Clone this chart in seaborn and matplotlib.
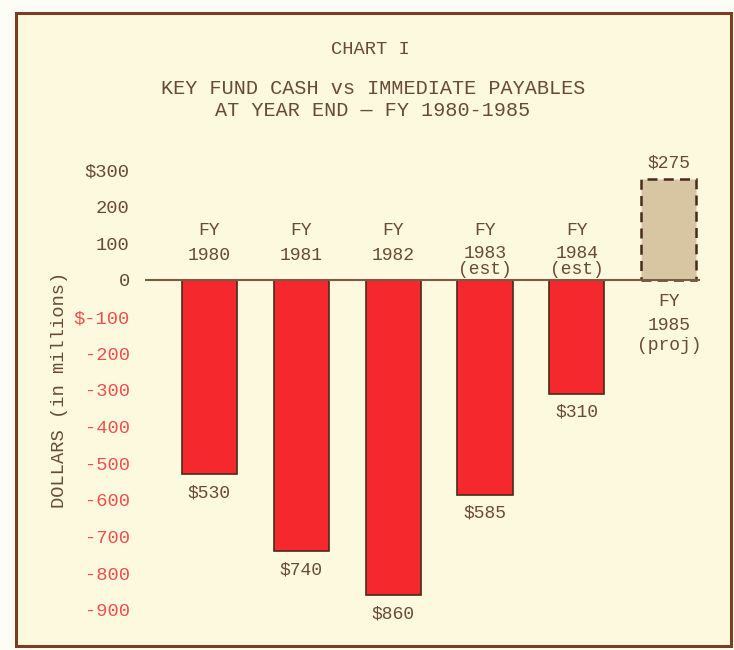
import matplotlib
matplotlib.use("Agg")
import matplotlib.pyplot as plt
import seaborn as sns
import pandas as pd
from matplotlib.patches import Rectangle

# Data (millions of dollars)
years = ["1980", "1981", "1982", "1983", "1984", "1985"]
notes = ["", "", "", "(est)", "(est)", "(proj)"]
values = [-530, -740, -860, -585, -310, 275]
value_labels = ["$530", "$740", "$860", "$585", "$310", "$275"]
yticks = [300, 200, 100, 0, -100, -200, -300, -400, -500, -600, -700, -800, -900]
ytick_labels = ["$300", "200", "100", "0", "$-100", "-200", "-300", "-400",
                "-500", "-600", "-700", "-800", "-900"]

BROWN = "#6b4a35"
RED_TXT = "#f0504c"
BAR_RED = "#f5282d"
TAN = "#d8c6a3"
EDGE = "#4a2a1a"
PAPER = "#fcf9df"

sns.set_style("white")
plt.rcParams["font.family"] = ["Liberation Mono", "DejaVu Sans Mono"]

fig = plt.figure(figsize=(7.34, 6.5), dpi=100)
fig.patch.set_facecolor("#fdfdf6")

# paper frame (behind the axes)
fig.patches.append(Rectangle((16 / 734, 4 / 650), 715 / 734, 633 / 650,
                             transform=fig.transFigure, facecolor=PAPER,
                             edgecolor="#7a3f22", linewidth=2.2, zorder=-5))

ax = fig.add_axes([145 / 734, 40 / 650, 555 / 734, 440 / 650])
ax.set_facecolor("none")

df = pd.DataFrame({"year": years, "value": values})
colors = {y: (TAN if v > 0 else BAR_RED) for y, v in zip(years, values)}
sns.barplot(data=df, x="year", y="value", hue="year", palette=colors,
            legend=False, width=0.6, edgecolor=EDGE, linewidth=1.2,
            saturation=1, ax=ax)

for p, v in zip(ax.patches, values):
    if v > 0:
        p.set_linestyle((0, (4, 2.5)))
        p.set_linewidth(1.8)

ax.axhline(0, color="#7a5a40", linewidth=1.5, zorder=3)

ax.set_xlim(-0.70, 5.34)
ax.set_ylim(-900, 300)
ax.set_yticks(yticks)
ax.set_yticklabels(ytick_labels, fontsize=13.5)
for lbl, t in zip(ax.get_yticklabels(), yticks):
    lbl.set_color(BROWN if t >= 0 else RED_TXT)
ax.tick_params(axis="y", length=0, pad=11)
ax.set_xticks([])
ax.set_xlabel("")
ax.set_ylabel("DOLLARS (in millions)", fontsize=13.5, color=BROWN, labelpad=4)
for s in ax.spines.values():
    s.set_visible(False)

# category and value labels
for i, (yr, note, v, vl) in enumerate(zip(years, notes, values, value_labels)):
    if v < 0:
        ax.text(i, 135, "FY", ha="center", va="center", fontsize=13, color=BROWN)
        ax.text(i, 72 if note else 68, yr, ha="center", va="center",
                fontsize=13, color=BROWN)
        if note:
            ax.text(i, 28, note, ha="center", va="center", fontsize=13, color=BROWN)
        ax.text(i, v - 50, vl, ha="center", va="center", fontsize=13, color=BROWN)
    else:
        ax.text(i, -58, "FY", ha="center", va="center", fontsize=13, color=BROWN)
        ax.text(i, -125, yr, ha="center", va="center", fontsize=13, color=BROWN)
        ax.text(i, -180, note, ha="center", va="center", fontsize=13, color=BROWN)
        ax.text(i, v + 45, vl, ha="center", va="center", fontsize=13, color=BROWN)

fig.text(0.505, 1 - 50 / 650, "CHART I", ha="center", va="center",
         fontsize=13.5, color=BROWN)
fig.text(0.508, 1 - 88 / 650, "KEY FUND CASH vs IMMEDIATE PAYABLES",
         ha="center", va="center", fontsize=14.5, color=BROWN)
fig.text(0.508, 1 - 111 / 650, "AT YEAR END \u2014 FY 1980-1985",
         ha="center", va="center", fontsize=14.5, color=BROWN)

fig.savefig("out.png", dpi=100, facecolor=fig.get_facecolor())
